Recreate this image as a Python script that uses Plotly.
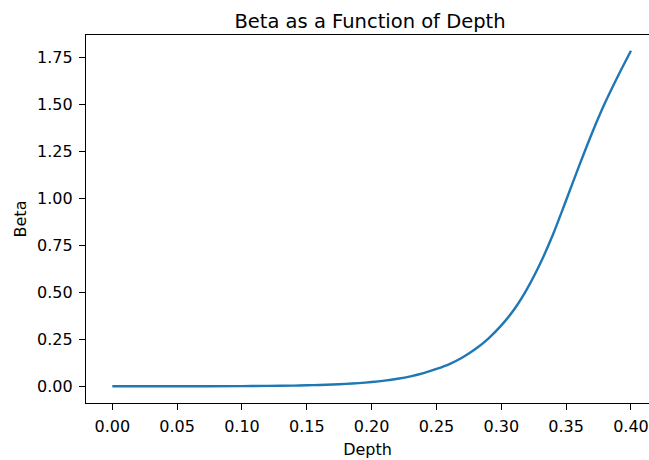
import plotly.graph_objects as go

# Depth samples and the corresponding beta values
depth = [0.00, 0.05, 0.10, 0.12, 0.14, 0.15, 0.16, 0.17, 0.18, 0.19,
         0.20, 0.21, 0.22, 0.23, 0.24, 0.25, 0.26, 0.27, 0.28, 0.29,
         0.30, 0.31, 0.32, 0.33, 0.34, 0.35, 0.36, 0.37, 0.38, 0.39, 0.40]
beta = [0.000, 0.0001, 0.001, 0.002, 0.0037, 0.0051, 0.0069, 0.0093, 0.0125, 0.0167,
        0.0225, 0.030, 0.040, 0.053, 0.070, 0.092, 0.118, 0.153, 0.198, 0.254,
        0.324, 0.410, 0.520, 0.653, 0.810, 0.990, 1.173, 1.348, 1.508, 1.651, 1.785]

x_ticks = [0.00, 0.05, 0.10, 0.15, 0.20, 0.25, 0.30, 0.35, 0.40]
x_tick_text = ["0.00", "0.05", "0.10", "0.15", "0.20", "0.25", "0.30", "0.35", "0.40"]
y_ticks = [0.00, 0.25, 0.50, 0.75, 1.00, 1.25, 1.50, 1.75]
y_tick_text = ["0.00", "0.25", "0.50", "0.75", "1.00", "1.25", "1.50", "1.75"]

FONT = "DejaVu Sans"
INK = "#000000"

fig = go.Figure(
    go.Scatter(
        x=depth, y=beta, mode="lines",
        line=dict(color="#1f77b4", width=2.4, shape="spline", smoothing=0.8),
        hoverinfo="x+y",
    )
)

fig.update_layout(
    width=649, height=460,
    margin=dict(l=86, r=0, t=35, b=57),
    paper_bgcolor="white", plot_bgcolor="white",
    showlegend=False,
    font=dict(family=FONT, size=16, color=INK),
    title=dict(
        text="Beta as a Function of Depth",
        font=dict(family=FONT, size=19.5, color=INK),
        xref="container", x=370 / 649, xanchor="center",
        yref="container", y=1 - 21 / 460, yanchor="middle",
    ),
)

fig.update_xaxes(
    range=[-0.0203, 0.4139],
    tickvals=x_ticks, ticktext=x_tick_text,
    ticks="outside", ticklen=6, tickwidth=1.2, tickcolor=INK,
    ticklabelstandoff=3,
    showline=True, linecolor=INK, linewidth=1.2, mirror=True,
    showgrid=False, zeroline=False,
    tickfont=dict(family=FONT, size=16, color=INK),
    title=dict(text="Depth", font=dict(family=FONT, size=16, color=INK), standoff=8),
)

fig.update_yaxes(
    range=[-0.089, 1.869],
    tickvals=y_ticks, ticktext=y_tick_text,
    ticks="outside", ticklen=6, tickwidth=1.2, tickcolor=INK,
    ticklabelstandoff=3,
    showline=True, linecolor=INK, linewidth=1.2, mirror=False,
    showgrid=False, zeroline=False,
    tickfont=dict(family=FONT, size=16, color=INK),
    title=dict(text="Beta", font=dict(family=FONT, size=16, color=INK), standoff=6),
)

fig.write_html("out.html")
